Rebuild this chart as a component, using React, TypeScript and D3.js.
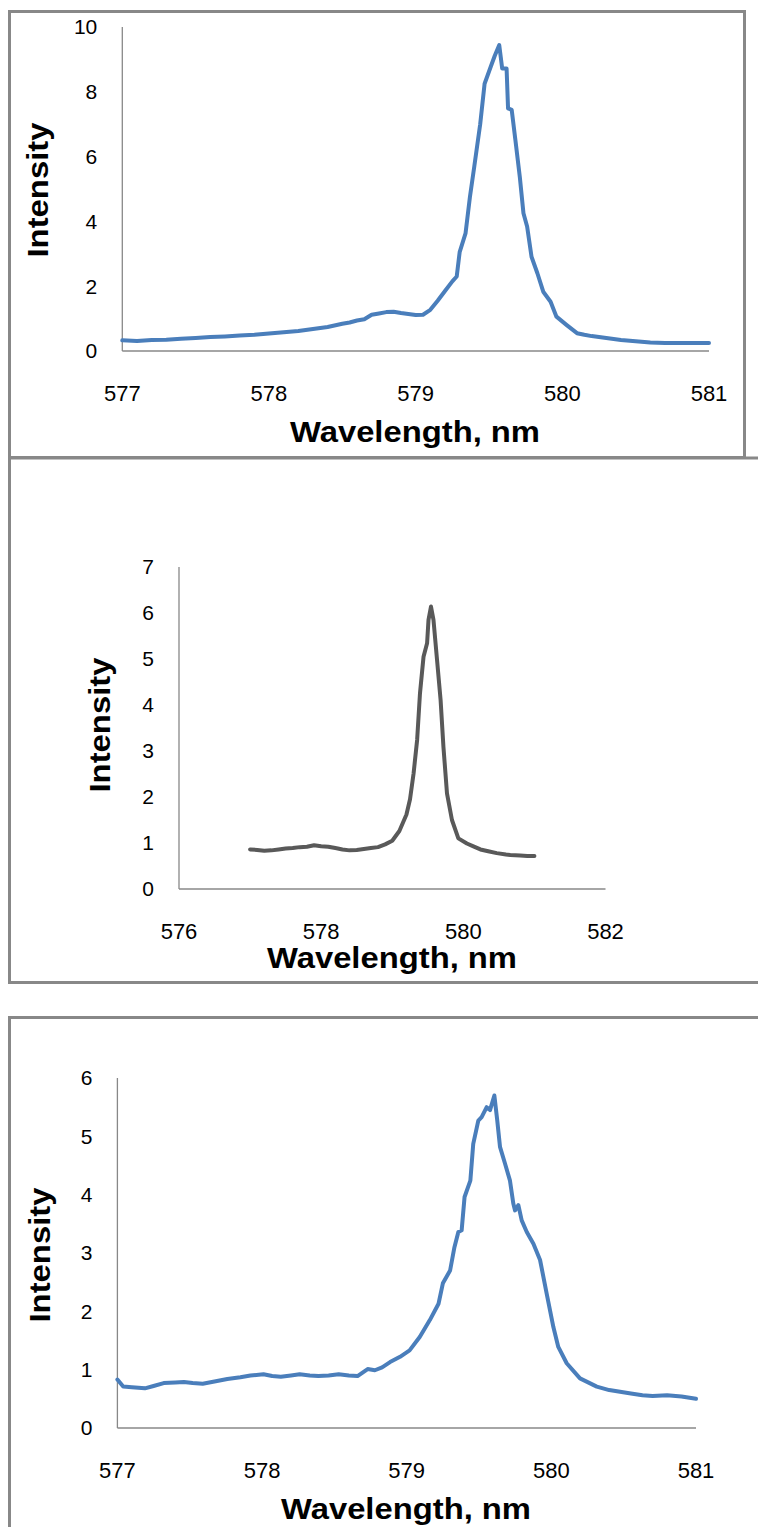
import React from "react";
import * as d3 from "d3";

// spectrum 1 (top, blue)
const wl1 = [577.0, 577.1, 577.2, 577.3, 577.4, 577.5, 577.6, 577.7, 577.8, 577.9, 578.0, 578.1, 578.2, 578.3, 578.4, 578.5, 578.55, 578.6, 578.65, 578.7, 578.75, 578.8, 578.85, 578.9, 578.95, 579.0, 579.05, 579.1, 579.15, 579.2, 579.25, 579.28, 579.3, 579.34, 579.37, 579.4, 579.44, 579.47, 579.51, 579.54, 579.57, 579.59, 579.62, 579.63, 579.655, 579.68, 579.71, 579.735, 579.76, 579.79, 579.83, 579.87, 579.92, 579.96, 580.03, 580.1, 580.15, 580.2, 580.3, 580.4, 580.5, 580.6, 580.7, 580.8, 580.9, 581.0];
const int1 = [0.33, 0.31, 0.34, 0.35, 0.38, 0.4, 0.43, 0.45, 0.48, 0.5, 0.54, 0.58, 0.62, 0.68, 0.74, 0.84, 0.88, 0.94, 0.98, 1.12, 1.16, 1.2, 1.21, 1.17, 1.14, 1.11, 1.12, 1.27, 1.55, 1.85, 2.15, 2.3, 3.05, 3.63, 4.75, 5.7, 7.0, 8.25, 8.75, 9.12, 9.44, 8.72, 8.72, 7.49, 7.44, 6.51, 5.38, 4.25, 3.84, 2.91, 2.4, 1.83, 1.52, 1.06, 0.8, 0.55, 0.5, 0.46, 0.4, 0.34, 0.3, 0.26, 0.25, 0.25, 0.25, 0.25];

// spectrum 2 (middle, grey)
const wl2 = [577.0, 577.1, 577.2, 577.3, 577.4, 577.5, 577.6, 577.7, 577.8, 577.9, 578.0, 578.1, 578.2, 578.3, 578.4, 578.5, 578.6, 578.7, 578.8, 578.9, 579.0, 579.1, 579.2, 579.25, 579.3, 579.35, 579.39, 579.44, 579.49, 579.51, 579.545, 579.58, 579.63, 579.68, 579.72, 579.77, 579.84, 579.93, 580.05, 580.15, 580.24, 580.35, 580.47, 580.6, 580.66, 580.8, 580.9, 581.0];
const int2 = [0.86, 0.85, 0.83, 0.84, 0.86, 0.88, 0.89, 0.91, 0.92, 0.95, 0.93, 0.92, 0.89, 0.86, 0.84, 0.85, 0.87, 0.89, 0.91, 0.97, 1.05, 1.26, 1.62, 1.95, 2.51, 3.24, 4.25, 5.05, 5.34, 5.85, 6.14, 5.85, 4.98, 4.11, 3.09, 2.08, 1.5, 1.1, 0.99, 0.92, 0.86, 0.82, 0.78, 0.75, 0.74, 0.73, 0.72, 0.72];

// spectrum 3 (bottom, blue)
const wl3 = [577.0, 577.04, 577.1, 577.19, 577.25, 577.32, 577.4, 577.46, 577.52, 577.59, 577.68, 577.76, 577.85, 577.92, 578.01, 578.07, 578.13, 578.2, 578.26, 578.33, 578.39, 578.46, 578.53, 578.6, 578.66, 578.73, 578.78, 578.83, 578.885, 578.954, 579.02, 579.09, 579.16, 579.22, 579.25, 579.3, 579.33, 579.357, 579.38, 579.4, 579.44, 579.46, 579.495, 579.518, 579.553, 579.576, 579.606, 579.626, 579.645, 579.68, 579.714, 579.737, 579.749, 579.772, 579.795, 579.83, 579.876, 579.922, 579.968, 580.014, 580.048, 580.106, 580.198, 580.314, 580.4, 580.475, 580.55, 580.63, 580.7, 580.8, 580.9, 581.0];
const int3 = [0.83, 0.71, 0.7, 0.68, 0.72, 0.77, 0.78, 0.79, 0.77, 0.76, 0.8, 0.84, 0.87, 0.9, 0.92, 0.89, 0.88, 0.9, 0.92, 0.9, 0.89, 0.9, 0.92, 0.9, 0.89, 1.01, 0.99, 1.04, 1.13, 1.22, 1.33, 1.56, 1.85, 2.13, 2.48, 2.7, 3.1, 3.36, 3.39, 3.96, 4.24, 4.87, 5.27, 5.33, 5.5, 5.45, 5.7, 5.27, 4.82, 4.53, 4.24, 3.85, 3.73, 3.82, 3.56, 3.36, 3.16, 2.88, 2.3, 1.73, 1.39, 1.11, 0.85, 0.71, 0.65, 0.62, 0.59, 0.56, 0.55, 0.56, 0.54, 0.5];

const xTicks1 = [577, 578, 579, 580, 581];
const yTicks1 = [0, 2, 4, 6, 8, 10];
const xTicks2 = [576, 578, 580, 582];
const yTicks2 = [0, 1, 2, 3, 4, 5, 6, 7];
const xTicks3 = [577, 578, 579, 580, 581];
const yTicks3 = [0, 1, 2, 3, 4, 5, 6];

const xTitle = "Wavelength, nm";
const yTitle = "Intensity";

const FONT = "'Liberation Sans', Arial, sans-serif";

type PanelCfg = {
  wl: number[];
  val: number[];
  color: string;
  xTicks: number[];
  yTicks: number[];
  frame: [number, number, number, number];
  plot: { left: number; right: number; top: number; bottom: number };
  xTitleX: number;
  xTitleY: number;
  yTitleX: number;
  yTitleY: number;
};

const panels: PanelCfg[] = [
  {
    wl: wl1, val: int1, color: "#4a7ebb", xTicks: xTicks1, yTicks: yTicks1,
    frame: [9.5, 11.5, 735, 446],
    plot: { left: 122.3, right: 709, top: 27, bottom: 351 },
    xTitleX: 415, xTitleY: 442, yTitleX: 48, yTitleY: 190,
  },
  {
    wl: wl2, val: int2, color: "#595959", xTicks: xTicks2, yTicks: yTicks2,
    frame: [9.5, 458, 800, 524.5],
    plot: { left: 179, right: 605.5, top: 567, bottom: 889 },
    xTitleX: 392, xTitleY: 968, yTitleX: 110, yTitleY: 725,
  },
  {
    wl: wl3, val: int3, color: "#4a7ebb", xTicks: xTicks3, yTicks: yTicks3,
    frame: [9.5, 1017.5, 800, 600],
    plot: { left: 117.4, right: 696, top: 1078, bottom: 1428 },
    xTitleX: 406, xTitleY: 1519, yTitleX: 50, yTitleY: 1255,
  },
];

function Panel({ p }: { p: PanelCfg }) {
  const { plot } = p;
  const x = d3.scaleLinear()
    .domain(d3.extent(p.xTicks) as [number, number])
    .range([plot.left, plot.right]);
  const y = d3.scaleLinear()
    .domain(d3.extent(p.yTicks) as [number, number])
    .range([plot.bottom, plot.top]);
  const pts = p.wl.map((w, i) => [w, p.val[i]] as [number, number]);
  const line = d3.line<[number, number]>()
    .x(d => x(d[0]))
    .y(d => y(d[1]));

  return (
    <g>
      <rect x={p.frame[0]} y={p.frame[1]} width={p.frame[2]} height={p.frame[3]}
        fill="none" stroke="#888" strokeWidth={3} />
      {/* axes */}
      <line x1={plot.left} x2={plot.left} y1={plot.top} y2={plot.bottom} stroke="#888" strokeWidth={1.3} />
      <line x1={plot.left} x2={plot.right} y1={plot.bottom} y2={plot.bottom} stroke="#888" strokeWidth={1.3} />
      {p.yTicks.map(t => (
        <text key={"y" + t} x={plot.left - 25} y={y(t)} dy="0.35em" textAnchor="end"
          fontFamily={FONT} fontSize={21} fill="#000">{t}</text>
      ))}
      {p.xTicks.map(t => (
        <text key={"x" + t} x={x(t)} y={plot.bottom + 50} textAnchor="middle"
          fontFamily={FONT} fontSize={22} fill="#000">{t}</text>
      ))}
      <path d={line(pts) || ""} fill="none" stroke={p.color} strokeWidth={4}
        strokeLinejoin="round" strokeLinecap="round" />
      <text x={p.xTitleX} y={p.xTitleY} textAnchor="middle" fontFamily={FONT}
        fontWeight="bold" fontSize={29} textLength={250} lengthAdjust="spacingAndGlyphs">{xTitle}</text>
      <text transform={`translate(${p.yTitleX},${p.yTitleY}) rotate(-90)`} textAnchor="middle"
        fontFamily={FONT} fontWeight="bold" fontSize={29} textLength={135}
        lengthAdjust="spacingAndGlyphs">{yTitle}</text>
    </g>
  );
}

export default function App() {
  return (
    <svg width={758} height={1527} style={{ position: "absolute", left: 0, top: 0, background: "#fff" }}>
      <rect width={758} height={1527} fill="#fff" />
      {panels.map((p, i) => <Panel key={i} p={p} />)}
    </svg>
  );
}
